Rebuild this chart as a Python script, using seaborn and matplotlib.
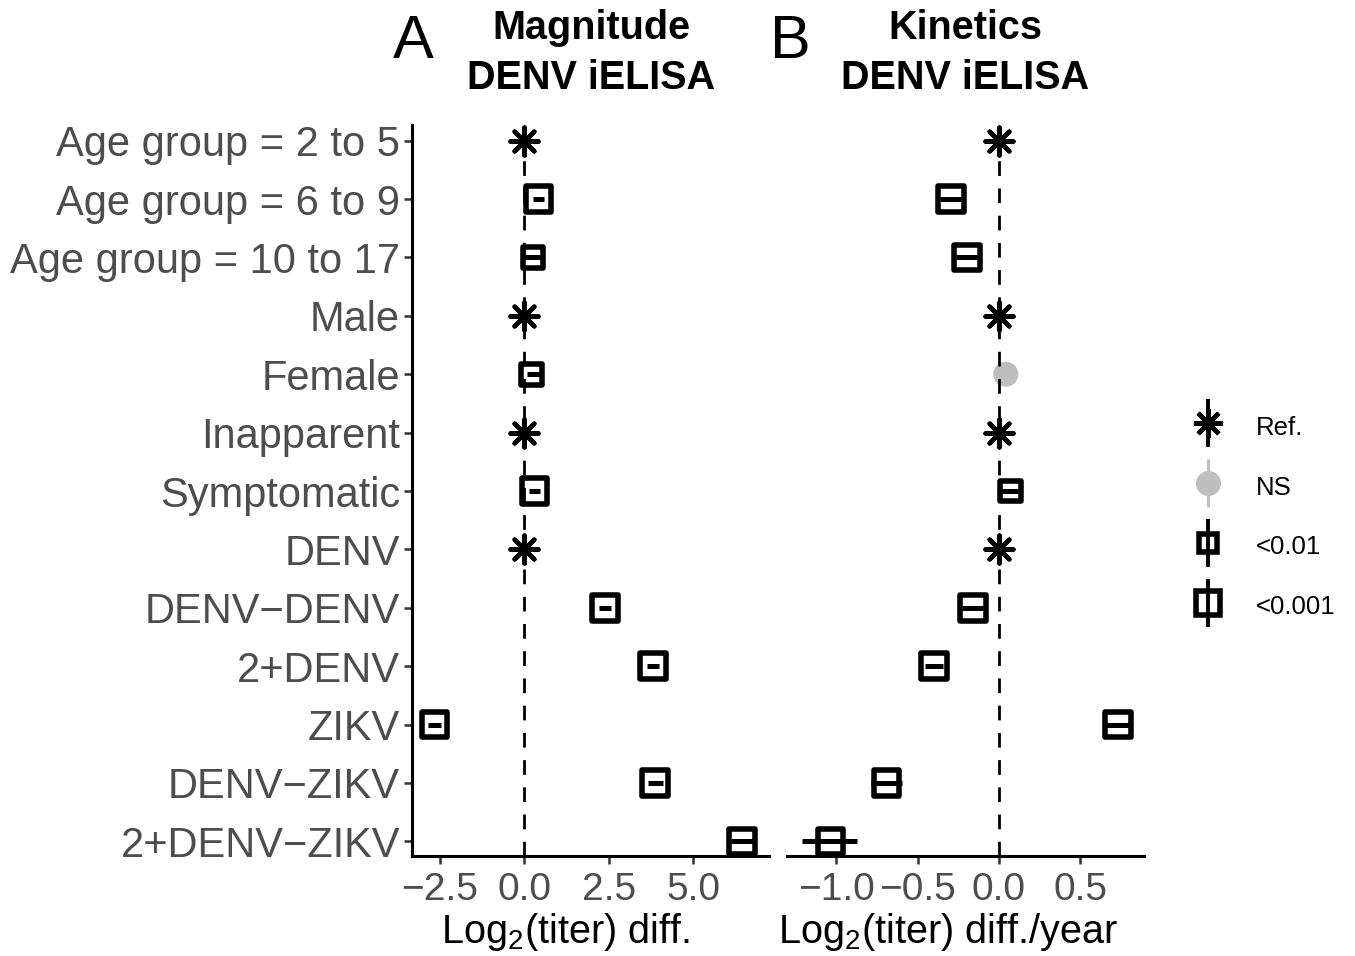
"""Forest plot: magnitude and kinetics of DENV iELISA titers."""
import matplotlib
matplotlib.use("Agg")
import matplotlib.pyplot as plt
from matplotlib.lines import Line2D
from matplotlib.legend_handler import HandlerTuple
import numpy as np
import pandas as pd
import seaborn as sns

# ---- data ----
labels = [
    "Age group = 2 to 5", "Age group = 6 to 9", "Age group = 10 to 17",
    "Male", "Female", "Inapparent", "Symptomatic", "DENV",
    "DENV\u2212DENV", "2+DENV", "ZIKV", "DENV\u2212ZIKV", "2+DENV\u2212ZIKV",
]

mag_est = [0, 0.41, 0.25, 0, 0.20, 0, 0.30, 0, 2.39, 3.80, -2.67, 3.87, 6.44]
mag_lo = [0, 0.24, -0.02, 0, 0.07, 0, 0.14, 0, 2.21, 3.63, -2.86, 3.65, 6.11]
mag_hi = [0, 0.58, 0.52, 0, 0.45, 0, 0.46, 0, 2.57, 3.97, -2.48, 4.09, 6.77]
mag_sig = ["Ref.", "<0.001", "<0.01", "Ref.", "<0.01", "Ref.", "<0.001", "Ref.",
           "<0.001", "<0.001", "<0.001", "<0.001", "<0.001"]

kin_est = [0, -0.295, -0.195, 0, 0.042, 0, 0.07, 0, -0.16, -0.40, 0.73, -0.69, -1.035]
kin_lo = [0, -0.365, -0.265, 0, 0.0, 0, 0.015, 0, -0.23, -0.455, 0.66, -0.785, -1.208]
kin_hi = [0, -0.225, -0.125, 0, 0.084, 0, 0.125, 0, -0.09, -0.345, 0.80, -0.595, -0.870]
kin_sig = ["Ref.", "<0.001", "<0.001", "Ref.", "NS", "Ref.", "<0.01", "Ref.",
           "<0.001", "<0.001", "<0.001", "<0.001", "<0.001"]

sig_levels = ["Ref.", "NS", "<0.01", "<0.001"]

GREY = "#BEBEBE"
TXT = "#4D4D4D"

# marker appearance for each significance level
point_kws = {
    "Ref.": dict(marker=(8, 2, 0), s=20 ** 2, color="black", linewidth=3.2),
    "NS": dict(marker="o", s=18 ** 2, color=GREY, edgecolor="none", linewidth=0),
    "<0.01": dict(marker="s", s=14.8 ** 2, facecolor="none", edgecolor="black", linewidth=4),
    "<0.001": dict(marker="s", s=18.4 ** 2, facecolor="none", edgecolor="black", linewidth=4),
}

sns.set_theme(style="ticks")
plt.rcParams["font.family"] = ["Liberation Sans", "DejaVu Sans"]
plt.rcParams["mathtext.default"] = "regular"
plt.rcParams["text.color"] = "black"
plt.rcParams["axes.labelcolor"] = "black"

W, H = 1355, 956
AX_BOTTOM, AX_HEIGHT = 0.1041, 0.7652


def draw_panel(ax, est, lo, hi, sig, xlim, xticks, xlabel, label_x, show_y):
    df = pd.DataFrame({"row": np.arange(len(labels)), "est": est,
                       "lo": lo, "hi": hi, "sig": sig})
    # confidence intervals
    for level, colour in [("<0.01", "black"), ("<0.001", "black"), ("NS", GREY)]:
        sub = df[df["sig"] == level]
        ax.hlines(sub["row"], sub["lo"], sub["hi"], color=colour, lw=3.6, zorder=2)
    # point estimates
    for level in sig_levels:
        sub = df[df["sig"] == level]
        if len(sub):
            sns.scatterplot(data=sub, x="est", y="row", ax=ax, legend=False,
                            zorder=3, **point_kws[level])
    ax.axvline(0, color="black", lw=2.0, dashes=(5.3, 4.5), zorder=4)

    ax.set_xlim(*xlim)
    ax.set_ylim(12.26, -0.27)
    ax.set_xticks(xticks)
    ax.set_xticklabels([f"{t:.1f}".replace("-", "\u2212") for t in xticks])
    ax.set_xlabel(xlabel, fontsize=28.5, color="black", va="center")
    # label sits a bit left of the panel centre in the original
    label_y = ((H - 932) / H - AX_BOTTOM) / AX_HEIGHT
    ax.xaxis.set_label_coords(label_x, label_y)
    ax.set_ylabel("")
    ax.tick_params(axis="both", length=5.8, width=1.8, color="#333333",
                   labelcolor=TXT)
    ax.tick_params(axis="x", labelsize=28, pad=5.5)
    for side in ["top", "right"]:
        ax.spines[side].set_visible(False)
    for side in ["bottom", "left"]:
        ax.spines[side].set_linewidth(2.2)
        ax.spines[side].set_color("black")
    if show_y:
        ax.set_yticks(np.arange(len(labels)))
        ax.set_yticklabels(labels)
        ax.tick_params(axis="y", labelsize=30, pad=3)
    else:
        ax.set_yticks([])
        ax.spines["left"].set_visible(False)


fig = plt.figure(figsize=(13.55, 9.56), dpi=100)
ax_a = fig.add_axes([0.3043, AX_BOTTOM, 0.2635, AX_HEIGHT])
ax_b = fig.add_axes([0.5810, AX_BOTTOM, 0.2632, AX_HEIGHT])

draw_panel(ax_a, mag_est, mag_lo, mag_hi, mag_sig, (-3.32, 7.25),
           [-2.5, 0.0, 2.5, 5.0], r"Log$_2$(titer) diff.", 0.428, True)
draw_panel(ax_b, kin_est, kin_lo, kin_hi, kin_sig, (-1.30, 0.89),
           [-1.0, -0.5, 0.0, 0.5], r"Log$_2$(titer) diff./year", 0.4505, False)

# titles and panel tags
for x, line1 in [(591, "Magnitude"), (965, "Kinetics")]:
    fig.text(x / W, 1 - 28 / H, line1, ha="center", va="center",
             fontsize=28.5, fontweight="bold")
    fig.text(x / W, 1 - 78 / H, "DENV iELISA", ha="center", va="center",
             fontsize=28.5, fontweight="bold")
fig.text(413 / W, 1 - 42 / H, "A", ha="center", va="center", fontsize=44)
fig.text(790 / W, 1 - 42 / H, "B", ha="center", va="center", fontsize=44)


# legend
def vbar(colour, width):
    return Line2D([], [], ls="none", marker="|", ms=34, mew=width, color=colour)


handles = [
    (vbar("black", 2.8), Line2D([], [], ls="none", marker=(8, 2, 0), ms=21,
                                mew=3.2, color="black")),
    (vbar(GREY, 2.2), Line2D([], [], ls="none", marker="o", ms=18, color=GREY,
                             mec="none")),
    (vbar("black", 2.8), Line2D([], [], ls="none", marker="s", ms=13, mfc="none",
                                mec="black", mew=4)),
    (vbar("black", 2.8), Line2D([], [], ls="none", marker="s", ms=17, mfc="none",
                                mec="black", mew=4)),
]
fig.legend(handles, sig_levels, loc="center left",
           bbox_to_anchor=(1190.5 / W, 1 - 516 / H), frameon=False, fontsize=18.5,
           handlelength=1.36, handleheight=1.36, handletextpad=1.19,
           labelspacing=1.2, borderpad=0, borderaxespad=0,
           handler_map={tuple: HandlerTuple(ndivide=1)})

fig.savefig("out.png", dpi=100)
